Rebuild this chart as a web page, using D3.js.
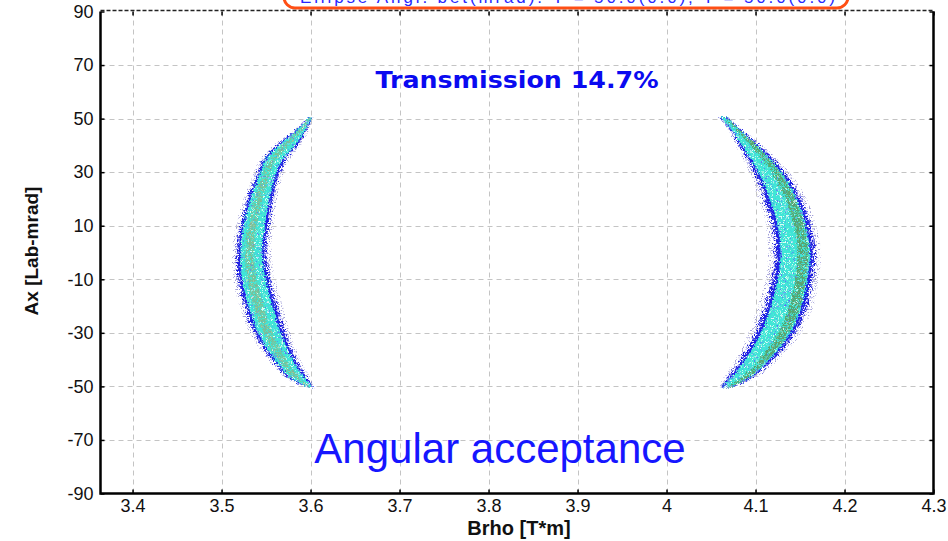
<!DOCTYPE html>
<html>
<head>
<meta charset="utf-8">
<script src="https://cdn.jsdelivr.net/npm/d3@7"></script>
<style>
  body { margin: 0; background: #fff; }
  svg { display: block; }
</style>
</head>
<body>
<svg id="chart" width="948" height="541"></svg>
<script>
// Axis ticks
const xTicks = [3.4, 3.5, 3.6, 3.7, 3.8, 3.9, 4.0, 4.1, 4.2, 4.3];
const xTickLabels = ["3.4", "3.5", "3.6", "3.7", "3.8", "3.9", "4", "4.1", "4.2", "4.3"];
const yTicks = [-90, -70, -50, -30, -10, 10, 30, 50, 70, 90];
const yTickLabels = ["-90", "-70", "-50", "-30", "-10", "10", "30", "50", "70", "90"];

// Low-Brho crescent: Ax levels with the outer (left) and inner (right) Brho edges
const leftAx    = [50.5, 45, 40.6, 34, 30, 22, 10, 0, -10, -20, -30, -40, -46.5, -50.3];
const leftOuter = [3.598, 3.582, 3.565, 3.547, 3.542, 3.533, 3.523, 3.519, 3.521, 3.528, 3.539, 3.558, 3.575, 3.597];
const leftInner = [3.602, 3.594, 3.585, 3.569, 3.564, 3.557, 3.551, 3.548, 3.552, 3.560, 3.569, 3.582, 3.594, 3.603];

// High-Brho crescent: Ax levels with the outer (right) and inner (left) Brho edges
const rightAx    = [50.5, 45.5, 40.6, 30, 19, 10, 0, -10, -20, -30, -40, -46.5, -50.3];
const rightOuter = [4.068, 4.084, 4.101, 4.131, 4.150, 4.159, 4.164, 4.161, 4.155, 4.142, 4.118, 4.096, 4.072];
const rightInner = [4.060, 4.073, 4.082, 4.101, 4.114, 4.122, 4.125, 4.122, 4.114, 4.103, 4.086, 4.071, 4.062];

const headerText = "Ellipse Angl. bet(mrad): Y =     50.0(0.0),  T =     50.0(0.0)";
const transmissionText = "Transmission 14.7%";
const annotationText = "Angular acceptance";
const xTitle = "Brho [T*m]";
const yTitle = "Ax [Lab-mrad]";

const svg = d3.select("#chart");
const plot = { left: 100.5, right: 933.5, top: 11.5, bottom: 493.5 };

const x = d3.scaleLinear().domain([3.364, 4.3]).range([plot.left, plot.right]);
const y = d3.scaleLinear().domain([-90, 90]).range([plot.bottom, plot.top]);

const font = "'Liberation Sans', Arial, sans-serif";

// ---- filters for the grainy density look ----
const defs = svg.append("defs");
defs.append("clipPath").attr("id", "plotClip")
  .append("rect")
  .attr("x", plot.left).attr("y", plot.top)
  .attr("width", plot.right - plot.left).attr("height", plot.bottom - plot.top);

function makeFilter(id) {
  return defs.append("filter").attr("id", id)
    .attr("x", "-30%").attr("y", "-10%").attr("width", "160%").attr("height", "120%");
}

// ragged edges
const rough = makeFilter("rough");
rough.append("feTurbulence").attr("type", "fractalNoise").attr("baseFrequency", 0.9)
  .attr("numOctaves", 2).attr("seed", 7).attr("result", "n");
rough.append("feDisplacementMap").attr("in", "SourceGraphic").attr("in2", "n")
  .attr("scale", 6).attr("xChannelSelector", "R").attr("yChannelSelector", "G");

// speckles of blue and pale cyan over the body
const speck = makeFilter("speck");
speck.append("feTurbulence").attr("type", "fractalNoise").attr("baseFrequency", 0.75)
  .attr("numOctaves", 1).attr("seed", 11).attr("result", "n");
speck.append("feColorMatrix").attr("in", "n").attr("type", "matrix")
  .attr("values", "0 0 0 0 0.1  0 0 0 0 0.2  0 0 0 0 0.92  8 0 0 0 -4.9").attr("result", "dots");
speck.append("feComposite").attr("in", "dots").attr("in2", "SourceAlpha")
  .attr("operator", "in").attr("result", "dotsIn");
speck.append("feTurbulence").attr("type", "fractalNoise").attr("baseFrequency", 0.8)
  .attr("numOctaves", 1).attr("seed", 23).attr("result", "n2");
speck.append("feColorMatrix").attr("in", "n2").attr("type", "matrix")
  .attr("values", "0 0 0 0 0.72  0 0 0 0 1  0 0 0 0 0.92  8 0 0 0 -4.6").attr("result", "lite");
speck.append("feComposite").attr("in", "lite").attr("in2", "SourceAlpha")
  .attr("operator", "in").attr("result", "liteIn");
const sm = speck.append("feMerge");
sm.append("feMergeNode").attr("in", "SourceGraphic");
sm.append("feMergeNode").attr("in", "liteIn");
sm.append("feMergeNode").attr("in", "dotsIn");

// keeps only scattered dots of a shape
function sparseFilter(id, seed, cut) {
  const f = makeFilter(id);
  f.append("feTurbulence").attr("type", "fractalNoise").attr("baseFrequency", 0.85)
    .attr("numOctaves", 1).attr("seed", seed).attr("result", "n");
  f.append("feColorMatrix").attr("in", "n").attr("type", "matrix")
    .attr("values", `0 0 0 0 0  0 0 0 0 0  0 0 0 0 0  8 0 0 0 ${-cut}`).attr("result", "m");
  f.append("feComposite").attr("in", "SourceGraphic").attr("in2", "m").attr("operator", "in");
}
sparseFilter("sparse", 5, 4.4);
sparseFilter("sparse2", 17, 3.6);
sparseFilter("ridgeDots", 31, 3.2);

// ---- header box (runs off the top of the page) ----
svg.append("rect")
  .attr("x", 284).attr("y", -24).attr("width", 564).attr("height", 32).attr("rx", 11)
  .attr("fill", "#fff").attr("stroke", "#ff4f14").attr("stroke-width", 3);
svg.append("text")
  .attr("x", 300).attr("y", 3)
  .attr("font-family", font).attr("font-size", 17)
  .attr("fill", "#2626ff")
  .attr("textLength", 535).attr("lengthAdjust", "spacing")
  .text(headerText);

// ---- grid ----
const grid = svg.append("g").attr("stroke", "#c4c4c4").attr("stroke-width", 1)
  .attr("stroke-dasharray", "5,4");
grid.selectAll("line.v").data(xTicks.filter(d => d < 4.3)).join("line")
  .attr("x1", d => Math.round(x(d)) + 0.5).attr("x2", d => Math.round(x(d)) + 0.5)
  .attr("y1", plot.top).attr("y2", plot.bottom);
grid.selectAll("line.h").data(yTicks.filter(d => d > -90 && d < 90)).join("line")
  .attr("y1", d => Math.round(y(d)) + 0.5).attr("y2", d => Math.round(y(d)) + 0.5)
  .attr("x1", plot.left).attr("x2", plot.right);

// ---- crescents ----
function rows(ax, outer, inner) {
  return ax.map((a, i) => ({ a, o: outer[i], n: inner[i] }));
}
function band(f0, f1) {
  return d3.area()
    .y(d => y(d.a))
    .x0(d => x(d.o + f0 * (d.n - d.o)))
    .x1(d => x(d.o + f1 * (d.n - d.o)))
    .curve(d3.curveCatmullRom.alpha(0.5));
}

const marks = svg.append("g").attr("clip-path", "url(#plotClip)");

function drawCrescent(data, ridge) {
  const g = marks.append("g");
  // faint purple scatter around the edges
  g.append("path").attr("d", band(-0.25, 1.28)(data))
    .attr("fill", "#7a76c8").attr("opacity", 0.7).attr("filter", "url(#sparse)");
  // scattered blue points just outside the body
  g.append("g").attr("filter", "url(#rough)")
    .append("path").attr("d", band(-0.1, 1.12)(data))
    .attr("fill", "#1c1ce0").attr("filter", "url(#sparse2)");
  // thin blue rim
  g.append("g").attr("filter", "url(#rough)")
    .append("path").attr("d", band(0, 1)(data))
    .attr("fill", "#2222e6");
  // cyan body with speckles
  g.append("g").attr("filter", "url(#rough)")
    .append("path").attr("d", band(0.07, 0.92)(data))
    .attr("fill", "#3fe6d6").attr("filter", "url(#speck)");
  // greener ridge of highest density
  g.append("g").attr("filter", "url(#rough)")
    .append("path").attr("d", band(ridge[0], ridge[1])(data))
    .attr("fill", ridge[2]).attr("opacity", ridge[3]).attr("filter", "url(#ridgeDots)");
}

drawCrescent(rows(leftAx, leftOuter, leftInner), [0.25, 0.6, "#86b98a", 0.8]);
drawCrescent(rows(rightAx, rightOuter, rightInner), [0.12, 0.42, "#5a9a5e", 0.85]);

// ---- axes ----
const axisStyle = g => {
  g.select(".domain").remove();
  g.selectAll(".tick line").attr("stroke", "#000").attr("stroke-width", 1.5);
  g.selectAll(".tick text").attr("font-family", font).attr("font-size", 18).attr("fill", "#111");
};

svg.append("g").attr("transform", `translate(${plot.left},0)`)
  .call(d3.axisLeft(y).tickValues(yTicks).tickFormat((d, i) => yTickLabels[i])
    .tickSize(-4).tickPadding(7))
  .call(axisStyle);
svg.append("g").attr("transform", `translate(0,${plot.bottom})`)
  .call(d3.axisBottom(x).tickValues(xTicks).tickFormat((d, i) => xTickLabels[i])
    .tickSize(-4).tickPadding(6))
  .call(axisStyle);
svg.append("g").attr("transform", `translate(${plot.right},0)`)
  .call(d3.axisRight(y).tickValues(yTicks).tickSize(-4).tickFormat(""))
  .call(axisStyle);
svg.append("g").attr("transform", `translate(0,${plot.top})`)
  .call(d3.axisTop(x).tickValues(xTicks).tickSize(-4).tickFormat(""))
  .call(axisStyle);

// ---- frame ----
svg.append("path")
  .attr("d", `M${plot.left},${plot.top}V${plot.bottom}H${plot.right}V${plot.top}`)
  .attr("fill", "none").attr("stroke", "#000").attr("stroke-width", 2.5);
svg.append("line")
  .attr("x1", plot.left).attr("x2", plot.right).attr("y1", plot.top - 1).attr("y2", plot.top - 1)
  .attr("stroke", "#222").attr("stroke-width", 1.5).attr("stroke-dasharray", "4,2");

// ---- titles and notes ----
svg.append("text")
  .attr("x", 517).attr("y", 88).attr("text-anchor", "middle")
  .attr("font-family", "'DejaVu Sans', Verdana, sans-serif").attr("font-weight", "bold")
  .attr("font-size", 23).attr("fill", "#0a0af0")
  .attr("textLength", 283).attr("lengthAdjust", "spacingAndGlyphs")
  .text(transmissionText);

svg.append("text")
  .attr("x", 500).attr("y", 463).attr("text-anchor", "middle")
  .attr("font-family", font).attr("font-size", 42).attr("fill", "#1616ff")
  .text(annotationText);

svg.append("text")
  .attr("x", 519).attr("y", 535).attr("text-anchor", "middle")
  .attr("font-family", font).attr("font-weight", "bold").attr("font-size", 20).attr("fill", "#111")
  .text(xTitle);

svg.append("text")
  .attr("transform", "translate(38,251) rotate(-90)").attr("text-anchor", "middle")
  .attr("font-family", font).attr("font-weight", "bold").attr("font-size", 19).attr("fill", "#111")
  .text(yTitle);
</script>
</body>
</html>
